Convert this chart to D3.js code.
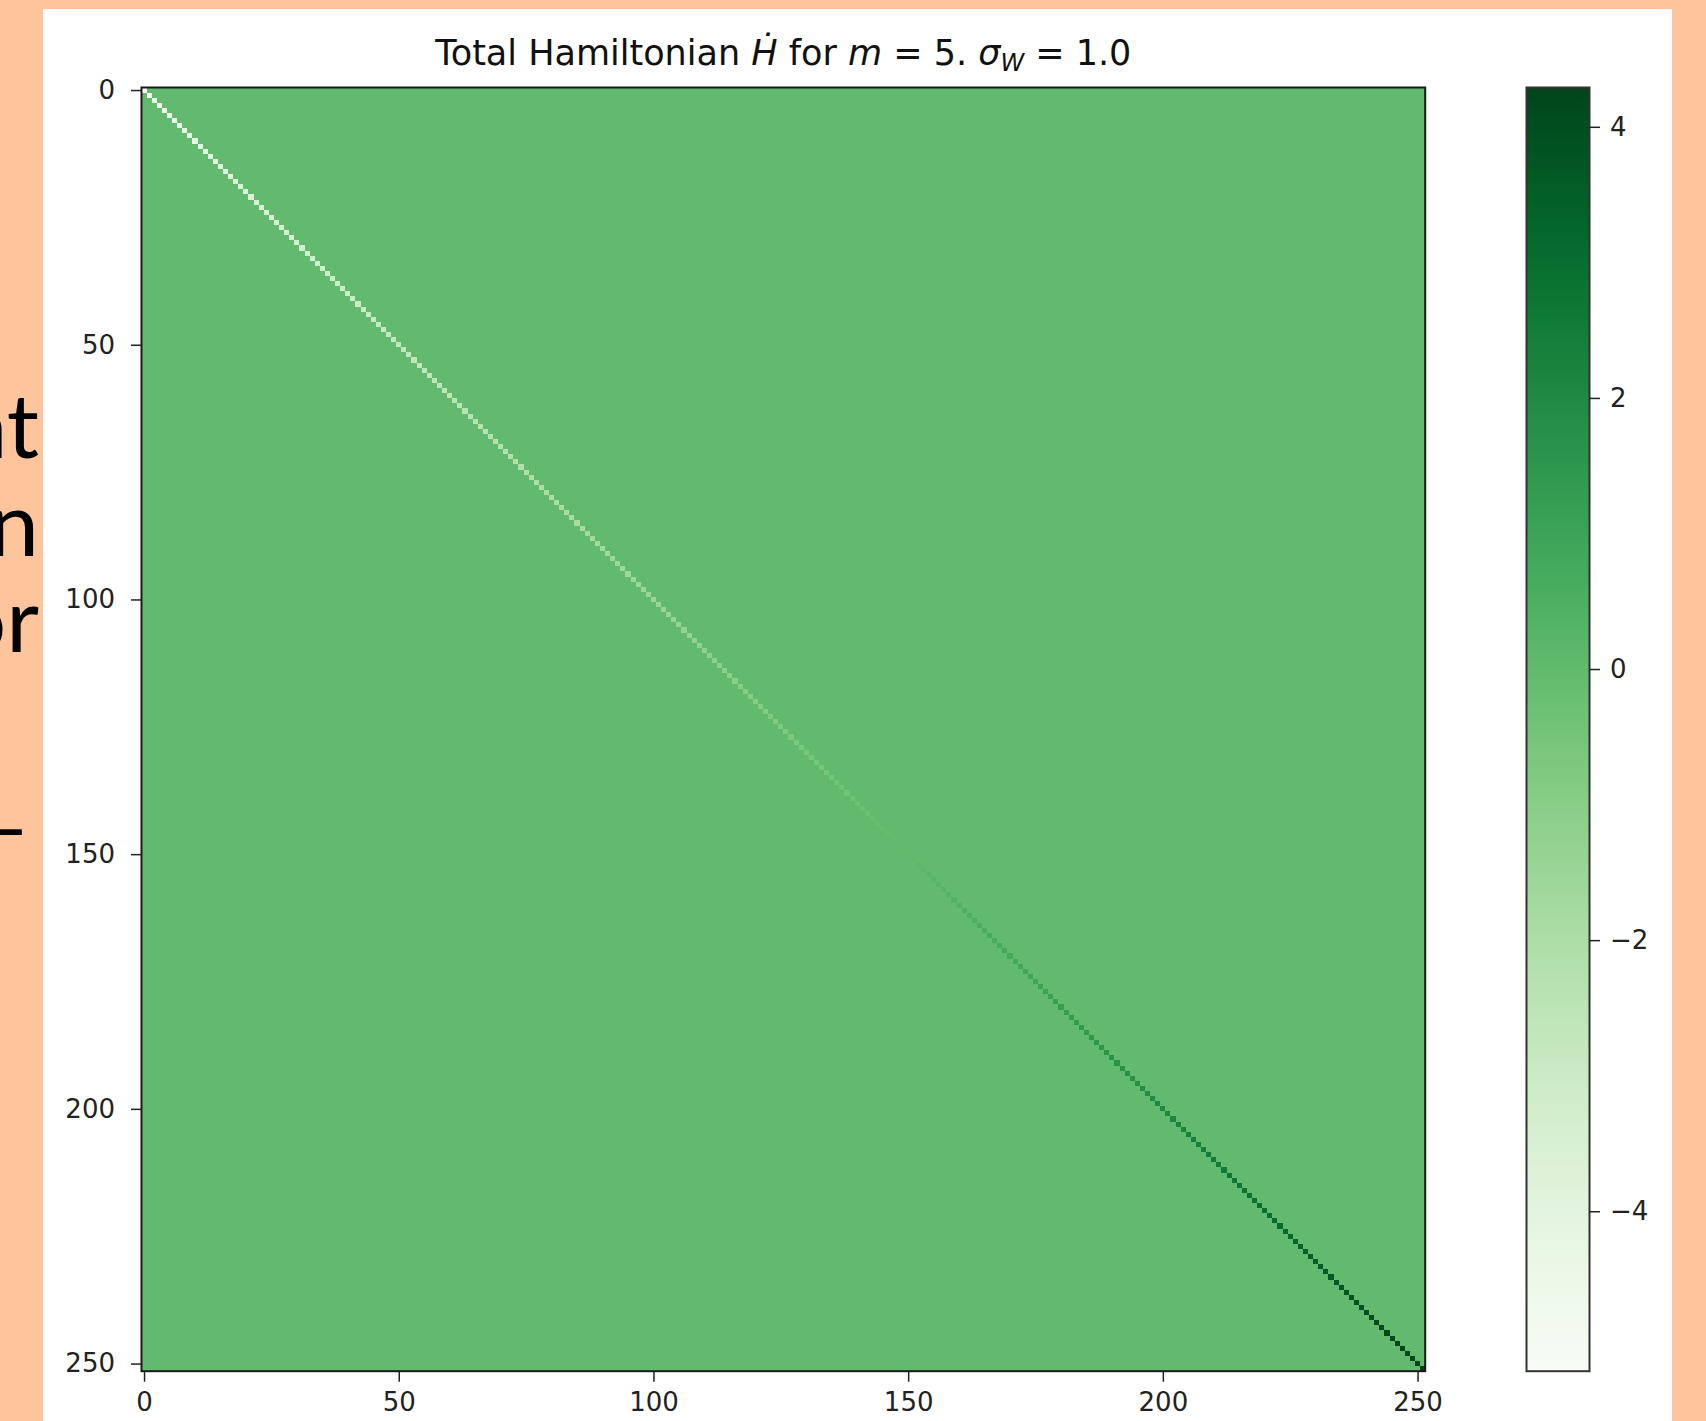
<!DOCTYPE html>
<html>
<head>
<meta charset="utf-8">
<script src="https://cdn.jsdelivr.net/npm/d3@7"></script>
<style>
  body { margin: 0; background: #fec49c; }
  svg { display: block; }
  text { font-family: 'DejaVu Sans', sans-serif; }
</style>
</head>
<body>
<svg width="1706" height="1421"></svg>
<script>
// matrix size (C(10,5) basis states) and the values
let size = 252
let offDiag = 0
let diag = [
  -5.18, -4.95, -4.81, -4.70, -4.62, -4.55, -4.47, -4.41, -4.35, -4.28, -4.22, -4.17, -4.11, -4.06, -4.00, -3.95, -3.90, -3.86, -3.81, -3.76, -3.72,
  -3.68, -3.65, -3.61, -3.58, -3.54, -3.51, -3.47, -3.44, -3.41, -3.37,
  -3.34, -3.31, -3.28, -3.24, -3.21, -3.18, -3.15, -3.12, -3.09, -3.06,
  -3.03, -3.00, -2.97, -2.94, -2.91, -2.88, -2.85, -2.82, -2.79, -2.76,
  -2.73, -2.71, -2.68, -2.65, -2.62, -2.59, -2.57, -2.54, -2.51, -2.48,
  -2.46, -2.43, -2.40, -2.38, -2.35, -2.32, -2.30, -2.27, -2.24, -2.22,
  -2.19, -2.16, -2.14, -2.11, -2.08, -2.06, -2.03, -2.01, -1.98, -1.95,
  -1.93, -1.90, -1.87, -1.85, -1.82, -1.79, -1.77, -1.74, -1.71, -1.69,
  -1.66, -1.64, -1.61, -1.59, -1.56, -1.54, -1.51, -1.49, -1.46, -1.44,
  -1.41, -1.39, -1.36, -1.34, -1.31, -1.29, -1.26, -1.24, -1.21, -1.18,
  -1.16, -1.13, -1.10, -1.08, -1.05, -1.02, -0.99, -0.97, -0.94, -0.91,
  -0.88, -0.85, -0.82, -0.79, -0.76, -0.73, -0.70, -0.67, -0.64, -0.61,
  -0.58, -0.55, -0.52, -0.49, -0.46, -0.42, -0.39, -0.36, -0.33, -0.29,
  -0.26, -0.23, -0.19, -0.16, -0.13, -0.09, -0.06, -0.03, 0.01, 0.04,
  0.08, 0.11, 0.15, 0.18, 0.22, 0.25, 0.29, 0.33, 0.36, 0.40,
  0.44, 0.47, 0.51, 0.55, 0.59, 0.62, 0.66, 0.70, 0.74, 0.78,
  0.82, 0.86, 0.90, 0.94, 0.98, 1.02, 1.06, 1.10, 1.14, 1.18,
  1.22, 1.26, 1.30, 1.35, 1.39, 1.43, 1.47, 1.52, 1.56, 1.60,
  1.65, 1.69, 1.73, 1.78, 1.82, 1.87, 1.91, 1.96, 2.00, 2.05,
  2.09, 2.14, 2.18, 2.23, 2.28, 2.32, 2.37, 2.42, 2.46, 2.51,
  2.56, 2.61, 2.65, 2.70, 2.75, 2.80, 2.85, 2.90, 2.95, 3.00,
  3.05, 3.10, 3.15, 3.20, 3.25, 3.30, 3.35, 3.40, 3.46, 3.51,
  3.56, 3.61, 3.66, 3.71, 3.76, 3.81, 3.86, 3.91, 3.96, 4.01,
  4.05, 4.09, 4.12, 4.15, 4.18, 4.20, 4.22, 4.24, 4.26, 4.27, 4.29
]
let axisTicks = [0, 50, 100, 150, 200, 250]
let barTicks = [-4, -2, 0, 2, 4]
let slideText = ['nt', 'n', 'or', '\u2013']

let svg = d3.select('svg')

// bits of slide text peeking out on the left, one text block
let slideY = [458, 556, 652, 858]
svg.append('text')
  .attr('text-anchor', 'end')
  .style('font-family', 'Lato, sans-serif')
  .style('font-size', '90px')
  .attr('fill', '#000')
  .selectAll('tspan')
  .data(slideText)
  .join('tspan')
  .attr('x', (d, i) => i === 3 ? 30 : 39)
  .attr('y', (d, i) => slideY[i])
  .text(d => d)

// white figure area
svg.append('rect')
  .attr('x', 43).attr('y', 9)
  .attr('width', 1629).attr('height', 1420)
  .attr('fill', '#fff')

let plotLeft = 141.5, plotTop = 87.5, side = 1283.7

let x = d3.scaleLinear().domain([-0.5, size - 0.5]).range([plotLeft, plotLeft + side])
let y = d3.scaleLinear().domain([-0.5, size - 0.5]).range([plotTop, plotTop + side])

let vmin = d3.min(diag), vmax = d3.max(diag)
let color = d3.scaleSequential(d3.interpolateGreens).domain([vmin, vmax])

let cells = []
for (let r = 0; r < size; r++) {
  for (let c = 0; c < size; c++) {
    cells.push({r: r, c: c, v: r === c ? diag[r] : offDiag})
  }
}

svg.append('g')
  .attr('shape-rendering', 'crispEdges')
  .selectAll('rect')
  .data(cells)
  .join('rect')
  .attr('x', d => x(d.c - 0.5))
  .attr('y', d => y(d.r - 0.5))
  .attr('width', d => x(d.c + 0.5) - x(d.c - 0.5))
  .attr('height', d => y(d.r + 0.5) - y(d.r - 0.5))
  .attr('fill', d => color(d.v))

svg.append('rect')
  .attr('x', plotLeft).attr('y', plotTop)
  .attr('width', side).attr('height', side)
  .attr('fill', 'none')
  .attr('stroke', '#1a1a1a')
  .attr('stroke-width', 2)

let styleAxis = g => {
  g.select('.domain').remove()
  g.selectAll('.tick line').attr('stroke', '#222').attr('stroke-width', 1.5)
  g.selectAll('.tick text')
    .attr('fill', '#222')
    .style('font-family', "'DejaVu Sans', sans-serif")
    .style('font-size', '26px')
}

svg.append('g')
  .attr('transform', `translate(${plotLeft},0)`)
  .call(d3.axisLeft(y).tickValues(axisTicks).tickSize(10.5).tickPadding(16))
  .call(styleAxis)

svg.append('g')
  .attr('transform', `translate(0,${plotTop + side})`)
  .call(d3.axisBottom(x).tickValues(axisTicks).tickSize(10.5).tickPadding(11))
  .call(styleAxis)

// colour bar
let cbLeft = 1526.5, cbWidth = 63
let defs = svg.append('defs')
let grad = defs.append('linearGradient')
  .attr('id', 'cbar')
  .attr('x1', 0).attr('y1', 1).attr('x2', 0).attr('y2', 0)
grad.selectAll('stop')
  .data(d3.range(0, 1.0001, 0.02))
  .join('stop')
  .attr('offset', d => d)
  .attr('stop-color', d => d3.interpolateGreens(d))

svg.append('rect')
  .attr('x', cbLeft).attr('y', plotTop)
  .attr('width', cbWidth).attr('height', side)
  .attr('fill', 'url(#cbar)')
  .attr('stroke', '#333')
  .attr('stroke-width', 2)

let cbScale = d3.scaleLinear().domain([vmin, vmax]).range([plotTop + side, plotTop])
svg.append('g')
  .attr('transform', `translate(${cbLeft + cbWidth},0)`)
  .call(d3.axisRight(cbScale).tickValues(barTicks).tickSize(10.5).tickPadding(10))
  .call(styleAxis)

// title with mathtext-like parts
let title = svg.append('text')
  .attr('x', plotLeft + side / 2)
  .attr('y', 65)
  .attr('text-anchor', 'middle')
  .attr('fill', '#111')
  .style('font-size', '35px')
title.append('tspan').text('Total Hamiltonian ')
title.append('tspan').style('font-style', 'italic').text('H\u0307')
title.append('tspan').text(' for ')
title.append('tspan').style('font-style', 'italic').text('m')
title.append('tspan').text(' = 5. ')
title.append('tspan').style('font-style', 'italic').text('\u03c3')
title.append('tspan').style('font-style', 'italic').style('font-size', '24px').attr('dy', 6).text('W')
title.append('tspan').attr('dy', -6).text(' = 1.0')
</script>
</body>
</html>
